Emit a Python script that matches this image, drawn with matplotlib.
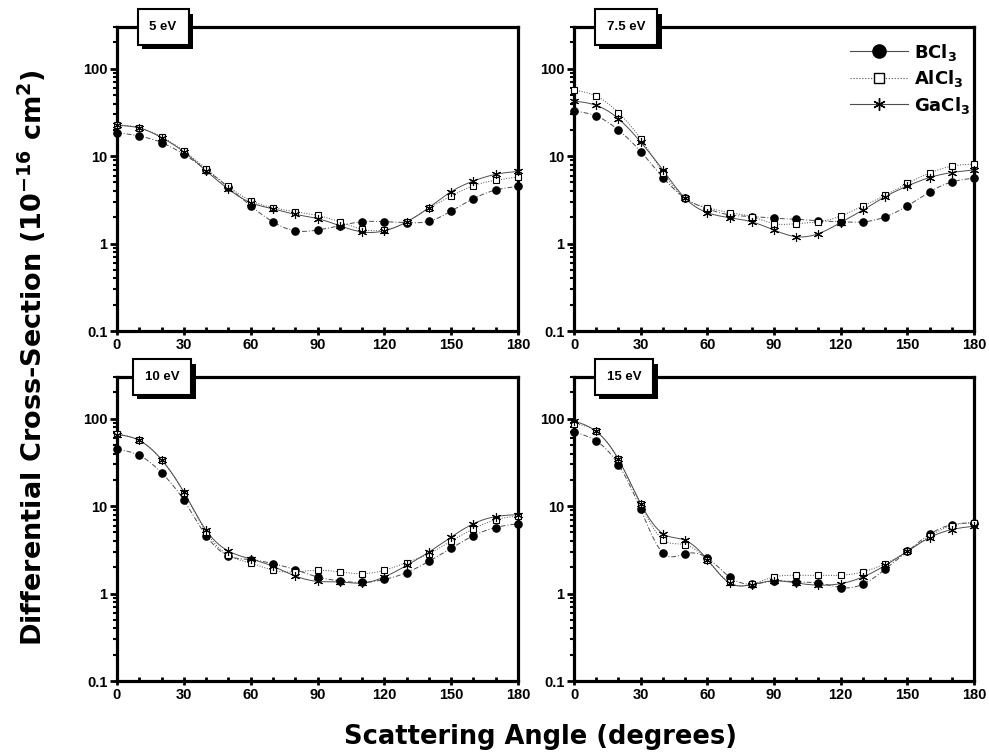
import numpy as np
import matplotlib.pyplot as plt
import matplotlib.patheffects as pe
from matplotlib.lines import Line2D

plt.rcParams['mathtext.default'] = 'bf'

# angulos de espalhamento (graus)
angles = [0, 10, 20, 30, 40, 50, 60, 70, 80, 90, 100, 110, 120, 130, 140, 150, 160, 170, 180]

energies = ['5 eV', '7.5 eV', '10 eV', '15 eV']

# secoes de choque diferenciais (10^-16 cm^2)
bcl3_5 = [18.6, 17.0, 14.3, 10.5, 7.0, 4.4, 2.7, 1.77, 1.4, 1.43, 1.6, 1.78, 1.78, 1.74, 1.8, 2.36, 3.27, 4.1, 4.5]
alcl3_5 = [22.9, 21.2, 16.7, 11.5, 7.2, 4.5, 3.1, 2.58, 2.32, 2.1, 1.77, 1.46, 1.43, 1.77, 2.53, 3.5, 4.6, 5.3, 5.8]
gacl3_5 = [22.5, 21.0, 16.3, 11.2, 6.8, 4.2, 2.94, 2.5, 2.16, 1.93, 1.6, 1.36, 1.4, 1.77, 2.58, 3.93, 5.2, 6.2, 6.7]

bcl3_75 = [32.8, 28.8, 19.9, 11.3, 5.7, 3.3, 2.5, 2.13, 2.04, 1.95, 1.9, 1.82, 1.78, 1.77, 2.02, 2.7, 3.9, 5.07, 5.6]
alcl3_75 = [57.0, 48.7, 31.4, 15.8, 6.5, 3.3, 2.58, 2.26, 2.04, 1.69, 1.69, 1.77, 2.07, 2.7, 3.57, 4.9, 6.4, 7.7, 8.1]
gacl3_75 = [42.7, 38.1, 26.8, 14.5, 6.95, 3.3, 2.26, 1.98, 1.77, 1.43, 1.2, 1.3, 1.74, 2.42, 3.44, 4.56, 5.7, 6.5, 6.95]

bcl3_10 = [44.6, 38.1, 24.1, 11.7, 4.6, 2.7, 2.45, 2.2, 1.88, 1.55, 1.4, 1.34, 1.45, 1.74, 2.34, 3.3, 4.6, 5.7, 6.3]
alcl3_10 = [67.4, 56.5, 34.0, 14.3, 5.07, 2.74, 2.24, 1.85, 1.77, 1.85, 1.77, 1.69, 1.85, 2.26, 2.86, 4.0, 5.5, 7.0, 7.7]
gacl3_10 = [66.0, 56.5, 34.0, 14.5, 5.3, 3.07, 2.49, 2.05, 1.59, 1.38, 1.36, 1.32, 1.55, 2.1, 2.99, 4.44, 6.3, 7.6, 8.0]

bcl3_15 = [70.4, 55.6, 29.8, 9.2, 2.92, 2.86, 2.56, 1.55, 1.28, 1.4, 1.36, 1.32, 1.17, 1.28, 1.9, 3.05, 4.77, 6.15, 6.4]
alcl3_15 = [87.7, 71.6, 34.3, 10.5, 4.14, 3.63, 2.4, 1.34, 1.28, 1.55, 1.62, 1.62, 1.62, 1.77, 2.2, 3.05, 4.52, 6.0, 6.5]
gacl3_15 = [94.0, 71.6, 34.3, 10.7, 4.85, 4.07, 2.45, 1.32, 1.27, 1.4, 1.32, 1.25, 1.3, 1.55, 2.1, 3.05, 4.37, 5.4, 5.9]

dados = [
    (bcl3_5, alcl3_5, gacl3_5),
    (bcl3_75, alcl3_75, gacl3_75),
    (bcl3_10, alcl3_10, gacl3_10),
    (bcl3_15, alcl3_15, gacl3_15),
]


def spline(x, y, n=400):
    # spline cubica natural (em escala log) so para desenhar a curva suave
    x = np.asarray(x, float)
    y = np.log10(np.asarray(y, float))
    k = len(x)
    h = np.diff(x)
    A = np.zeros((k, k))
    b = np.zeros(k)
    A[0, 0] = A[-1, -1] = 1
    for i in range(1, k - 1):
        A[i, i - 1] = h[i - 1]
        A[i, i] = 2 * (h[i - 1] + h[i])
        A[i, i + 1] = h[i]
        b[i] = 6 * ((y[i + 1] - y[i]) / h[i] - (y[i] - y[i - 1]) / h[i - 1])
    M = np.linalg.solve(A, b)
    xs = np.linspace(x[0], x[-1], n)
    j = np.clip(np.searchsorted(x, xs) - 1, 0, k - 2)
    t0 = x[j + 1] - xs
    t1 = xs - x[j]
    hj = h[j]
    ys = (M[j] * t0 ** 3 + M[j + 1] * t1 ** 3) / (6 * hj) \
        + (y[j] / hj - M[j] * hj / 6) * t0 + (y[j + 1] / hj - M[j + 1] * hj / 6) * t1
    return xs, 10 ** ys


fig = plt.figure(figsize=(9.89, 7.53), dpi=100)
posicoes = [
    [0.1183, 0.5604, 0.4055, 0.4037],
    [0.5804, 0.5604, 0.4045, 0.4037],
    [0.1183, 0.0956, 0.4055, 0.4037],
    [0.5804, 0.0956, 0.4045, 0.4037],
]
caixas_x = [0.115, 0.13, 0.112, 0.125]

estilos = [
    dict(marker='o', mfc='k', mec='k', ms=5.2, ls=(0, (5, 2, 1, 2)), mew=1),
    dict(marker='s', mfc='white', mec='k', ms=5, ls=':', mew=0.8),
    dict(marker=(6, 2, 0), mfc='k', mec='k', ms=6.5, ls='-', mew=0.8),
]

for p, pos in enumerate(posicoes):
    ax = fig.add_axes(pos)
    for s, serie in enumerate(dados[p]):
        st = estilos[s]
        xs, ys = spline(angles, serie)
        ax.plot(xs, ys, color='0.3', lw=0.7, ls=st['ls'], zorder=2)
        ax.plot(angles, serie, ls='none', marker=st['marker'], mfc=st['mfc'],
                mec=st['mec'], ms=st['ms'], mew=st['mew'], zorder=3, clip_on=False)
    ax.set_yscale('log')
    ax.set_xlim(0, 180)
    ax.set_ylim(0.1, 300)
    ax.set_xticks([0, 30, 60, 90, 120, 150, 180])
    ax.set_xticks(range(0, 181, 10), minor=True)
    ax.set_yticks([0.1, 1, 10, 100])
    ax.set_yticklabels(['0.1', '1', '10', '100'])
    for sp in ax.spines.values():
        sp.set_linewidth(2.3)
    ax.tick_params(axis='x', which='major', direction='inout', length=6, width=2)
    ax.tick_params(axis='x', which='minor', direction='in', length=3, width=2)
    ax.tick_params(axis='y', which='major', direction='out', length=5, width=2)
    ax.tick_params(axis='y', which='minor', direction='out', length=3, width=1.5)
    ax.tick_params(labelsize=10.5, pad=2)
    for lab in ax.get_xticklabels() + ax.get_yticklabels():
        lab.set_fontfamily('Liberation Sans')
        lab.set_fontweight('bold')
    # caixa com sombra do rotulo de energia
    t = ax.text(caixas_x[p], 1.0, energies[p], transform=ax.transAxes, ha='center', va='center',
                fontsize=9.5, fontweight='bold', family='Liberation Sans', zorder=10,
                bbox=dict(boxstyle='square,pad=0.9', fc='white', ec='k', lw=1.5))
    t.get_bbox_patch().set_path_effects([
        pe.SimplePatchShadow(offset=(3.2, -3.2), shadow_rgbFace='k', alpha=1.0),
        pe.Normal()])
    if p == 1:
        handles = [
            Line2D([], [], color='0.3', lw=0.8, ls='-', marker='o', mfc='k', mec='k', ms=9.5),
            Line2D([], [], color='0.3', lw=0.8, ls=':', marker='s', mfc='white', mec='k', ms=7.5, mew=1),
            Line2D([], [], color='0.3', lw=0.8, ls='-', marker=(6, 2, 0), mec='k', ms=9, mew=1),
        ]
        ax.legend(handles, ['BCl$_3$', 'AlCl$_3$', 'GaCl$_3$'], loc='upper right',
                  bbox_to_anchor=(1.03, 1.005), frameon=False, handlelength=3.2,
                  handletextpad=0.3, labelspacing=0.3, prop=dict(weight='bold', size=13))

fig.text(0.032, 0.525, 'Differential Cross-Section (10$^{-16}$ cm$^{2}$)', rotation=90,
         ha='center', va='center', fontsize=19.5, fontweight='bold')
fig.text(0.547, 0.021, 'Scattering Angle (degrees)', ha='center', va='center',
         fontsize=18.5, fontweight='bold')

fig.savefig('out.png', dpi=100)
